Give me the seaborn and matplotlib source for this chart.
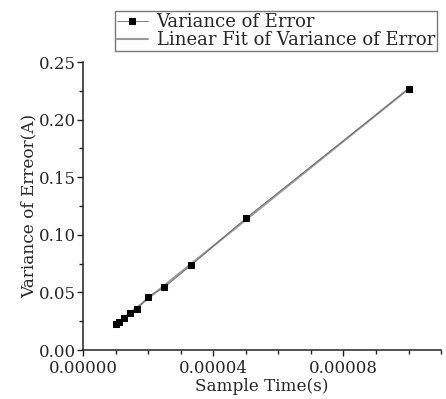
import pandas as pd
import matplotlib
matplotlib.use("Agg")
import matplotlib.pyplot as plt
import seaborn as sns
from matplotlib.ticker import MultipleLocator, FormatStrFormatter

# Datos
sample_time = [1.0e-5, 1.11e-5, 1.25e-5, 1.43e-5, 1.67e-5, 2.0e-5, 2.5e-5, 3.33e-5, 5.0e-5, 1.0e-4]
variance_error = [0.0226, 0.0246, 0.0275, 0.0324, 0.0356, 0.0463, 0.0544, 0.0738, 0.1143, 0.2266]

df = pd.DataFrame({"Sample Time(s)": sample_time, "Variance": variance_error})

sns.set_style("ticks")
plt.rcParams['font.family'] = ['DejaVu Serif']

fig = plt.figure(figsize=(4.46, 3.99), dpi=100)
ax = fig.add_axes([0.186, 0.1228, 0.803, 0.7218])

# Serie de datos y ajuste lineal
sns.lineplot(ax=ax, data=df, x="Sample Time(s)", y="Variance", marker='s', markersize=4.5,
             color='#666666', markerfacecolor='black', markeredgecolor='black',
             linewidth=0.6, label='Variance of Error', zorder=4)
sns.regplot(ax=ax, data=df, x="Sample Time(s)", y="Variance", scatter=False, ci=None,
            label='Linear Fit of Variance of Error',
            line_kws={'color': '#9a9a9a', 'linewidth': 1.5, 'zorder': 3})

ax.set_xlim(0, 0.00011)
ax.set_ylim(0, 0.25)
ax.xaxis.set_major_locator(MultipleLocator(4e-5))
ax.xaxis.set_minor_locator(MultipleLocator(1e-5))
ax.xaxis.set_major_formatter(FormatStrFormatter('%.5f'))
ax.yaxis.set_major_locator(MultipleLocator(0.05))
ax.yaxis.set_minor_locator(MultipleLocator(0.025))
ax.yaxis.set_major_formatter(FormatStrFormatter('%.2f'))
ax.tick_params(which='major', length=4, width=1, color='#222222')
ax.tick_params(which='minor', length=3, width=1, color='#222222')
ax.tick_params(axis='y', pad=1)
ax.tick_params(axis='x', pad=3)
ax.tick_params(labelsize=12)

sns.despine(ax=ax)
for s in ['left', 'bottom']:
    ax.spines[s].set_color('#222222')
    ax.spines[s].set_linewidth(1.1)

ax.set_xlabel('Sample Time(s)', fontsize=12.2, labelpad=1)
ax.set_ylabel('Variance of Erreor(A)', fontsize=12.2, labelpad=1)

handles, labels = ax.get_legend_handles_labels()
ax.legend(handles=handles, labels=labels, loc='upper left',
          bbox_to_anchor=(0.258, 0.972), bbox_transform=fig.transFigure,
          fancybox=False, edgecolor='#777777', framealpha=1, fontsize=13,
          handlelength=1.7, handletextpad=0.5, borderpad=0.1, labelspacing=0.0,
          borderaxespad=0)

plt.savefig('out.png', dpi=100)
